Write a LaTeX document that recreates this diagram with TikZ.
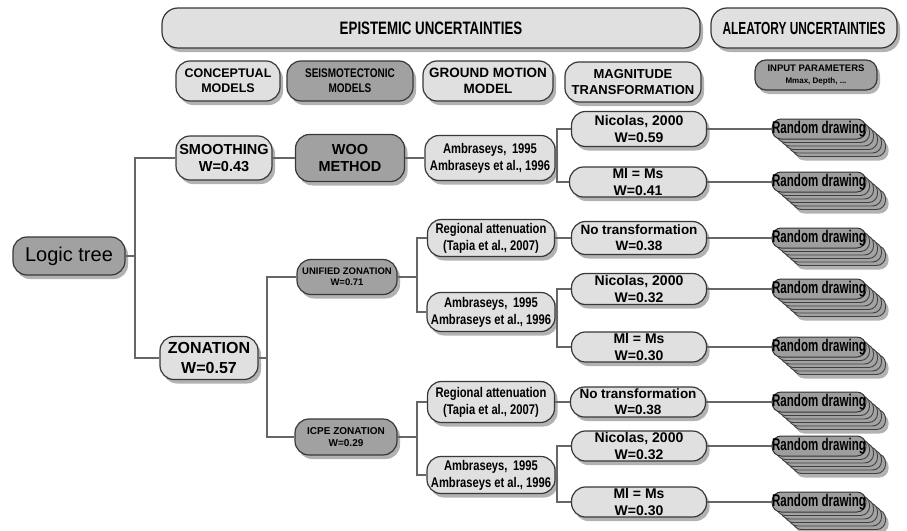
\documentclass[tikz,border=0pt]{standalone}
\usepackage{fontspec}
\setmainfont{Liberation Sans}
\newfontfamily\nar[FakeStretch=0.8]{Liberation Sans}
\newfontfamily\narh[FakeStretch=0.74]{Liberation Sans}
\newfontfamily\narr[FakeStretch=0.68]{Liberation Sans}
\usetikzlibrary{shadows}
\newcommand\fsz[1]{\fontsize{#1}{\dimexpr#1pt*6/5\relax}\selectfont}
\tikzset{
  base/.style={draw=black!78, line width=1.2pt, rounded corners=14pt, align=center,
    inner xsep=1pt, inner ysep=0pt,
    drop shadow={shadow xshift=3pt, shadow yshift=-4pt, opacity=0.3, fill=black}},
  light/.style={base, fill=black!12},
  dark/.style={base, fill=black!37},
  fA/.style={font=\bfseries\fsz{#1}},
  fN/.style={font=\nar\bfseries\fsz{#1}},
  conn/.style={draw=black!60, line width=1.2pt},
  rdfront/.style={draw=black!80, line width=1pt, fill=black!38, rounded corners=9pt,
    minimum width=93pt, minimum height=20pt, inner sep=0pt, font=\narr\bfseries\fsz{17}},
  rdback/.style={draw=black!75, line width=0.9pt, fill=black!36, rounded corners=9pt,
    minimum width=93pt, minimum height=20pt, inner sep=0pt},
  rdlast/.style={rdback, drop shadow={shadow xshift=3pt, shadow yshift=-4pt, opacity=0.3, fill=black}}
}
\newcommand\rdstack[2]{%
  \node[rdlast] (#1s5) at (839,#2+17.5) {};
  \node[rdback] (#1s4) at (835,#2+14) {};
  \node[rdback] (#1s3) at (831,#2+10.5) {};
  \node[rdback] (#1s2) at (827,#2+7) {};
  \node[rdback] (#1s1) at (823,#2+3.5) {};
  \node[rdfront] (#1) at (819,#2) {Random drawing};
}
\begin{document}
\begin{tikzpicture}[x=1pt,y=-1pt]
\useasboundingbox[fill=white] (0,0) rectangle (907,530);

% headers
\node[light, minimum width=538pt, minimum height=40pt, rounded corners=16pt, font=\narh\bfseries\fsz{18}] (epi) at (431,28) {EPISTEMIC UNCERTAINTIES};
\node[light, minimum width=186pt, minimum height=40pt, rounded corners=16pt, font=\narr\bfseries\fsz{17.5}] (ale) at (804,28) {ALEATORY UNCERTAINTIES};

\node[light, minimum width=104pt, minimum height=40pt, fA=12.5] (conc) at (228,81) {CONCEPTUAL\\MODELS};
\node[dark, minimum width=126pt, minimum height=40pt, fN=12.5] (seis) at (350,81) {SEISMOTECTONIC\\MODELS};
\node[light, minimum width=130pt, minimum height=40pt, fA=13.5] (gmm) at (488,81) {GROUND MOTION\\MODEL};
\node[light, minimum width=136pt, minimum height=40pt, fA=13] (mag) at (633,82) {MAGNITUDE\\TRANSFORMATION};
\node[dark, minimum width=122pt, minimum height=30pt, rounded corners=11pt, fA=9.5] (inp) at (816,75) {INPUT PARAMETERS\\{\fsz{8}Mmax, Depth, ...}};

% tree
\node[dark, minimum width=112pt, minimum height=38pt, font=\fsz{20}] (logic) at (69,256) {Logic tree};
\node[light, minimum width=96pt, minimum height=44pt, fA=14.5] (smooth) at (224,158) {SMOOTHING\\W=0.43};
\node[dark, minimum width=109pt, minimum height=47pt, fA=14.5] (woo) at (350,158) {WOO\\METHOD};
\node[light, minimum width=130pt, minimum height=45pt, fN=14] (amb1) at (490,158) {Ambraseys,\, 1995\\Ambraseys et al., 1996};
\node[light, minimum width=135pt, minimum height=35pt, fA=14] (nic1) at (639,129) {Nicolas, 2000\\W=0.59};
\node[light, minimum width=137pt, minimum height=30pt, fA=14] (ml1) at (638,182) {Ml = Ms\\W=0.41};

\node[light, minimum width=98pt, minimum height=43pt, fA=16] (zon) at (209,358) {ZONATION\\W=0.57};
\node[dark, minimum width=100pt, minimum height=35pt, fA=9.5] (uni) at (347,277) {UNIFIED ZONATION\\W=0.71};
\node[dark, minimum width=102pt, minimum height=36pt, fA=10] (icpe) at (346,437) {ICPE ZONATION\\W=0.29};

\node[light, minimum width=127pt, minimum height=37pt, fN=14] (reg1) at (491,238) {Regional attenuation\\(Tapia et al., 2007)};
\node[light, minimum width=135pt, minimum height=33pt, fA=13.5] (not1) at (639,238) {No transformation\\W=0.38};
\node[light, minimum width=128pt, minimum height=39pt, fN=14] (amb2) at (491,312) {Ambraseys,\, 1995\\Ambraseys et al., 1996};
\node[light, minimum width=135pt, minimum height=31pt, fA=14] (nic2) at (639,289) {Nicolas, 2000\\W=0.32};
\node[light, minimum width=135pt, minimum height=30pt, fA=14] (ml2) at (639,347) {Ml = Ms\\W=0.30};

\node[light, minimum width=127pt, minimum height=41pt, fN=14] (reg2) at (491,402) {Regional attenuation\\(Tapia et al., 2007)};
\node[light, minimum width=135pt, minimum height=30pt, fA=13.5] (not2) at (638,402) {No transformation\\W=0.38};
\node[light, minimum width=128pt, minimum height=37pt, fN=14] (amb3) at (491,475) {Ambraseys,\, 1995\\Ambraseys et al., 1996};
\node[light, minimum width=135pt, minimum height=30pt, fA=14] (nic3) at (639,446) {Nicolas, 2000\\W=0.32};
\node[light, minimum width=135pt, minimum height=30pt, fA=14] (ml3) at (639,502) {Ml = Ms\\W=0.30};

% random drawing stacks
\rdstack{rd1}{129}
\rdstack{rd2}{182}
\rdstack{rd3}{238}
\rdstack{rd4}{289}
\rdstack{rd5}{347}
\rdstack{rd6}{402}
\rdstack{rd7}{446}
\rdstack{rd8}{502}

% junctions
\coordinate (j1) at (135,256);
\coordinate (j2) at (267,358);
\coordinate (j3) at (417,277);
\coordinate (j4) at (417,437);
\coordinate (b1) at (557,158);
\coordinate (b2) at (557,312);
\coordinate (b3) at (557,475);

% connectors
\draw[conn] (logic.east) -- (j1);
\draw[conn] (smooth.west) -| (j1) |- (zon.west);
\draw[conn] (smooth.east) -- (woo.west);
\draw[conn] (woo.east) -- (amb1.west);
\draw[conn] (amb1.east) -- (b1);
\draw[conn] (nic1.west) -| (b1) |- (ml1.west);

\draw[conn] (zon.east) -- (j2);
\draw[conn] (uni.west) -| (j2) |- (icpe.west);
\draw[conn] (uni.east) -- (j3);
\draw[conn] (reg1.west) -| (j3) |- (amb2.west);
\draw[conn] (icpe.east) -- (j4);
\draw[conn] (reg2.west) -| (j4) |- (amb3.west);
\draw[conn] (reg1.east) -- (not1.west);
\draw[conn] (reg2.east) -- (not2.west);
\draw[conn] (amb2.east) -- (b2);
\draw[conn] (nic2.west) -| (b2) |- (ml2.west);
\draw[conn] (amb3.east) -- (b3);
\draw[conn] (nic3.west) -| (b3) |- (ml3.west);

\draw[conn] (nic1.east) -- (rd1.west);
\draw[conn] (ml1.east) -- (rd2.west);
\draw[conn] (not1.east) -- (rd3.west);
\draw[conn] (nic2.east) -- (rd4.west);
\draw[conn] (ml2.east) -- (rd5.west);
\draw[conn] (not2.east) -- (rd6.west);
\draw[conn] (nic3.east) -- (rd7.west);
\draw[conn] (ml3.east) -- (rd8.west);
\end{tikzpicture}
\end{document}
